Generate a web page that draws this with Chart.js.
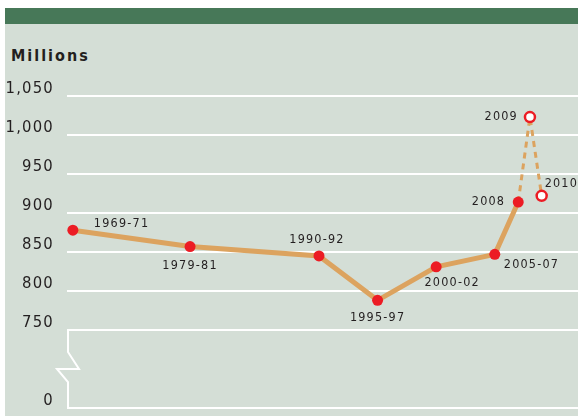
<!DOCTYPE html>
<html>
<head>
<meta charset="utf-8">
<script src="https://cdn.jsdelivr.net/npm/chart.js@4"></script>
<style>
    body { margin: 0; background: #fff; }
    #wrap { position: relative; width: 578px; height: 418px; }
    #panel { position: absolute; left: 5px; top: 8px; right: 0; height: 408px; background: #d4ded6; }
    #band { position: absolute; left: 5px; top: 8px; right: 0; height: 16px; background: #477858; }
    #unit {
        position: absolute; left: 11px; top: 46px;
        font: bold 16px "DejaVu Sans Condensed", sans-serif;
        letter-spacing: 2px; color: #231f20;
    }
    #box { position: absolute; left: 0; top: 0; width: 578px; height: 418px; }
</style>
</head>
<body>
<div id="wrap">
    <div id="panel"></div>
    <div id="band"></div>
    <div id="unit">Millions</div>
    <div id="box"><canvas id="hungerChart"></canvas></div>
</div>
<script>
// Periods and their mid years
const periods = ['1969-71', '1979-81', '1990-92', '1995-97', '2000-02', '2005-07', '2008', '2009', '2010'];
const periodYears = [1970, 1980, 1991, 1996, 2001, 2006, 2008, 2009, 2010];
// Undernourished people, millions
const undernourished = [878, 857, 845, 788, 831, 847, 914, 1023, 922];
// 2009 and 2010 are estimates (dashed line, open markers)
const estimated = [false, false, false, false, false, false, false, true, true];

// Broken axis: the bottom tick stands for 0
const yTickValues = [650, 750, 800, 850, 900, 950, 1000, 1050];
const yTickLabels = ['0', '750', '800', '850', '900', '950', '1,000', '1,050'];

// Where each period label sits next to its point
const labelPlacement = [
    { dx: 21, dy: -6, align: 'left' },
    { dx: 0, dy: 19, align: 'center' },
    { dx: -2, dy: -16, align: 'center' },
    { dx: 0, dy: 17, align: 'center' },
    { dx: 16, dy: 16, align: 'center' },
    { dx: 9, dy: 10, align: 'left' },
    { dx: -13, dy: 0, align: 'right' },
    { dx: -12, dy: 0, align: 'right' },
    { dx: 3, dy: -12, align: 'left' }
];

const FONT = '"DejaVu Sans Condensed", sans-serif';
const RED = '#ec1c24';
const TAN = '#dca35f';
const INK = '#231f20';

// letter spacing for the tick labels
const spacingPlugin = {
    id: 'spacing',
    beforeDraw(chart) {
        chart.ctx.letterSpacing = '1.2px';
    }
};

// white broken-axis zigzag on the left
const breakPlugin = {
    id: 'axisBreak',
    beforeDatasetsDraw(chart) {
        const ctx = chart.ctx;
        const y = chart.scales.y;
        const x0 = chart.chartArea.left + 1;
        const top = y.getPixelForValue(750);
        const bottom = y.getPixelForValue(650);
        ctx.save();
        ctx.strokeStyle = '#fff';
        ctx.lineWidth = 2;
        ctx.beginPath();
        ctx.moveTo(x0, top);
        ctx.lineTo(x0, top + 22);
        ctx.lineTo(x0 + 11, top + 39);
        ctx.lineTo(x0 - 11, top + 39);
        ctx.lineTo(x0, top + 52);
        ctx.lineTo(x0, bottom);
        ctx.stroke();
        ctx.restore();
    }
};

// period labels next to the points
const labelPlugin = {
    id: 'periodLabels',
    afterDatasetsDraw(chart) {
        const ctx = chart.ctx;
        const points = chart.getDatasetMeta(0).data;
        ctx.save();
        ctx.font = '12.5px ' + FONT;
        ctx.fillStyle = INK;
        ctx.textBaseline = 'middle';
        ctx.letterSpacing = '1.2px';
        points.forEach(function (pt, i) {
            const p = labelPlacement[i];
            ctx.textAlign = p.align;
            ctx.fillText(periods[i], pt.x + p.dx, pt.y + p.dy);
        });
        ctx.restore();
    }
};

const ctx = document.getElementById('hungerChart').getContext('2d');
const hungerChart = new Chart(ctx, {
    type: 'line',
    data: {
        datasets: [{
            data: periodYears.map((yr, i) => ({ x: yr, y: undernourished[i] })),
            borderColor: TAN,
            borderWidth: 5,
            tension: 0,
            pointRadius: estimated.map(e => e ? 5 : 5.5),
            pointBackgroundColor: estimated.map(e => e ? '#fff' : RED),
            pointBorderColor: RED,
            pointBorderWidth: estimated.map(e => e ? 2.5 : 0),
            segment: {
                borderDash: c => estimated[c.p1DataIndex] ? [6, 5] : undefined,
                borderWidth: c => estimated[c.p1DataIndex] ? 3 : undefined
            },
            clip: false
        }]
    },
    options: {
        responsive: true,
        maintainAspectRatio: false,
        animation: false,
        layout: { autoPadding: false, padding: { left: 0, right: 0, top: 96, bottom: 10 } },
        plugins: { legend: { display: false }, tooltip: { enabled: false } },
        scales: {
            x: {
                type: 'linear',
                min: 1969.5,
                max: 2013.1,
                display: false
            },
            y: {
                min: 650,
                max: 1050,
                afterBuildTicks: scale => {
                    scale.ticks = yTickValues.map(v => ({ value: v }));
                },
                afterFit: scale => {
                    scale.width = 67;
                    scale.paddingTop = 0;
                    scale.paddingBottom = 0;
                },
                border: { display: false },
                grid: { color: '#fff', lineWidth: 2, drawTicks: false },
                ticks: {
                    padding: 13,
                    labelOffset: -7,
                    color: INK,
                    font: { family: FONT, size: 16.5 },
                    callback: v => yTickLabels[yTickValues.indexOf(v)]
                }
            }
        }
    },
    plugins: [spacingPlugin, breakPlugin, labelPlugin]
});
</script>
</body>
</html>
